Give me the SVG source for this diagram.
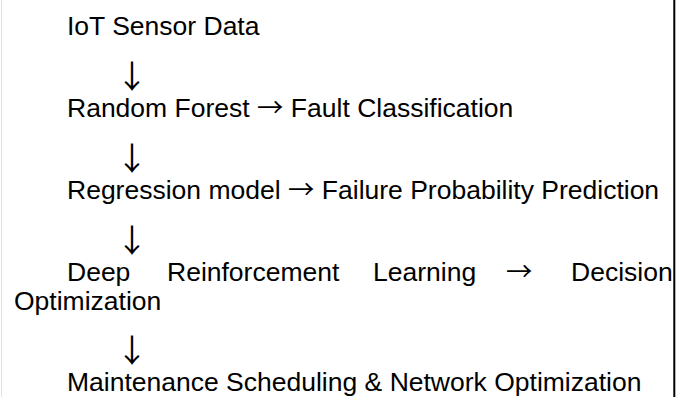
<svg xmlns="http://www.w3.org/2000/svg" width="686" height="397" viewBox="0 0 686 397">
  <style>
    .t { font-family: "Liberation Sans", Arial, sans-serif; font-size: 26.5px; fill: #000; }
    .sym { font-family: "Noto Sans CJK SC", "Liberation Sans", sans-serif; }
    .arr { font-family: "Noto Sans CJK SC", "Liberation Sans", sans-serif; font-size: 32px; fill: #000; }
  </style>
  <rect x="0" y="0" width="686" height="397" fill="#fff"/>
  <!-- frame edges -->
  <line x1="1.5" y1="0" x2="1.5" y2="397" stroke="#e2e2e2" stroke-width="1"/>
  <line x1="674.3" y1="0" x2="674.3" y2="397" stroke="#000" stroke-width="2"/>

  <g id="sensor-data">
    <text class="t" x="67" y="35">IoT Sensor Data</text>
  </g>
  <g id="fault-classification">
    <text class="t" x="67" y="117">Random Forest <tspan class="sym">→</tspan> Fault Classification</text>
  </g>
  <g id="failure-prediction">
    <text class="t" x="67" y="199">Regression model <tspan class="sym">→</tspan> Failure Probability Prediction</text>
  </g>
  <g id="decision-optimization">
    <text class="t" y="281"><tspan x="67">Deep</tspan><tspan x="167">Reinforcement</tspan><tspan x="373">Learning</tspan><tspan x="506" class="sym">→</tspan><tspan x="571">Decision</tspan></text>
    <text class="t" x="14" y="310">Optimization</text>
  </g>
  <g id="maintenance-scheduling">
    <text class="t" x="67" y="391">Maintenance Scheduling &amp; Network Optimization</text>
  </g>

  <g id="connectors">
    <text class="arr" x="116" y="88">↓</text>
    <text class="arr" x="116" y="170">↓</text>
    <text class="arr" x="116" y="252">↓</text>
    <text class="arr" x="116" y="362">↓</text>
  </g>
</svg>
